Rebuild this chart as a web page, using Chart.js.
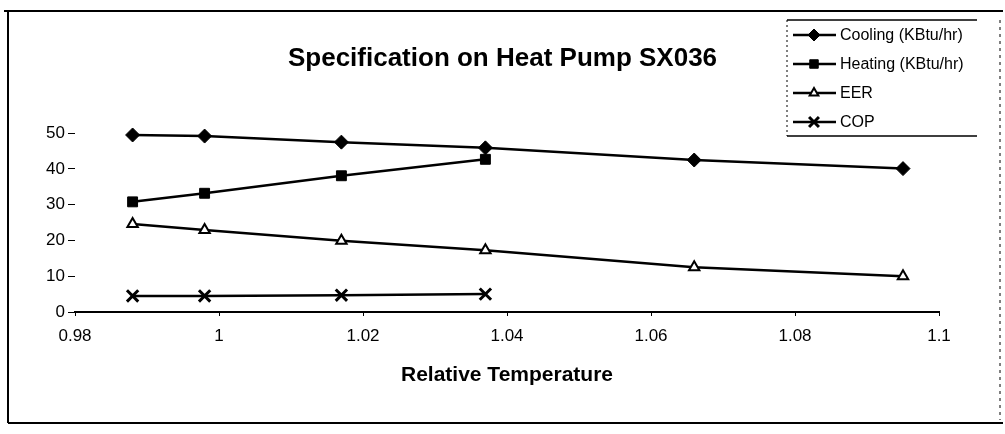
<!DOCTYPE html>
<html>
<head>
<meta charset="utf-8">
<script src="https://cdn.jsdelivr.net/npm/chart.js@4.4.0/dist/chart.umd.min.js"></script>
<style>
html, body { margin: 0; padding: 0; background: #fff; }
#wrap { position: relative; width: 1005px; height: 434px; }
</style>
</head>
<body>
<div id="wrap"><canvas id="chart"></canvas></div>
<script>
// relative temperature of each measured point
const temps = [0.988, 0.998, 1.017, 1.037, 1.066, 1.095];
const cooling = [49.5, 49.2, 47.5, 45.9, 42.5, 40.1];
const heating = [30.8, 33.2, 38.1, 42.7];
const eer = [24.6, 22.9, 19.9, 17.3, 12.5, 10];
const cop = [4.5, 4.5, 4.7, 5.0];
const seriesNames = ['Cooling (KBtu/hr)', 'Heating (KBtu/hr)', 'EER', 'COP'];
const xTicks = [0.98, 1, 1.02, 1.04, 1.06, 1.08, 1.1];
const yTicks = [0, 10, 20, 30, 40, 50];

const FONT = "'Liberation Sans', Arial, sans-serif";
Chart.defaults.font.family = FONT;
Chart.defaults.color = '#000';

function toPoints(values) {
	return values.map((v, i) => ({ x: temps[i], y: v }));
}

// scanned page frame round the chart
const paperFrame = {
	id: 'paperFrame',
	beforeDraw(chart) {
		const ctx = chart.ctx;
		ctx.save();
		ctx.fillStyle = '#fff';
		ctx.fillRect(0, 0, chart.width, chart.height);
		ctx.strokeStyle = '#000';
		ctx.lineWidth = 2;
		ctx.beginPath();
		ctx.moveTo(4, 11); ctx.lineTo(1003, 11);
		ctx.moveTo(8, 11); ctx.lineTo(8, 423);
		ctx.moveTo(8, 423); ctx.lineTo(1003, 423);
		ctx.stroke();
		ctx.setLineDash([3, 4]);
		ctx.lineWidth = 1;
		ctx.beginPath();
		ctx.moveTo(1000, 20); ctx.lineTo(1000, 420);
		ctx.stroke();
		ctx.restore();
	}
};

// legend box in the top right corner, line with the marker in the middle
const boxLegend = {
	id: 'boxLegend',
	afterDraw(chart) {
		const ctx = chart.ctx;
		ctx.save();
		ctx.strokeStyle = '#000';
		ctx.lineWidth = 1.5;
		ctx.beginPath();
		ctx.moveTo(787, 20); ctx.lineTo(977, 20);
		ctx.moveTo(787, 136); ctx.lineTo(977, 136);
		ctx.stroke();
		ctx.setLineDash([2, 3]);
		ctx.lineWidth = 1;
		ctx.beginPath();
		ctx.moveTo(787, 20); ctx.lineTo(787, 136);
		ctx.stroke();
		ctx.setLineDash([]);

		chart.data.datasets.forEach((ds, i) => {
			const y = 35 + i * 29;
			ctx.strokeStyle = '#000';
			ctx.lineWidth = 2.5;
			ctx.beginPath();
			ctx.moveTo(793, y);
			ctx.lineTo(836, y);
			ctx.stroke();
			ctx.fillStyle = ds.pointBackgroundColor;
			ctx.lineWidth = ds.pointBorderWidth;
			Chart.helpers.drawPoint(ctx, {
				pointStyle: ds.pointStyle,
				radius: ds.pointRadius - 1,
				rotation: 0,
				borderWidth: ds.pointBorderWidth
			}, 814, y);
			ctx.fillStyle = '#000';
			ctx.font = '16px ' + FONT;
			ctx.textAlign = 'left';
			ctx.textBaseline = 'middle';
			ctx.fillText(ds.label, 840, y + 1);
		});
		ctx.restore();
	}
};

const datasets = [
	{
		label: seriesNames[0],
		data: toPoints(cooling),
		pointStyle: 'rectRot',
		pointRadius: 7,
		pointBackgroundColor: '#000',
		pointBorderWidth: 1,
	},
	{
		label: seriesNames[1],
		data: toPoints(heating),
		pointStyle: 'rect',
		pointRadius: 7,
		pointBackgroundColor: '#000',
		pointBorderWidth: 1,
	},
	{
		label: seriesNames[2],
		data: toPoints(eer),
		pointStyle: 'triangle',
		pointRadius: 6,
		pointBackgroundColor: '#fff',
		pointBorderWidth: 2,
	},
	{
		label: seriesNames[3],
		data: toPoints(cop),
		pointStyle: 'crossRot',
		pointRadius: 8,
		pointBackgroundColor: '#000',
		pointBorderWidth: 3,
	},
].map(ds => Object.assign({
	borderColor: '#000',
	backgroundColor: '#000',
	pointBorderColor: '#000',
	borderWidth: 2.5,
	tension: 0,
	clip: false,
	yAxisID: 'y',
}, ds));

new Chart(document.getElementById('chart'), {
	type: 'line',
	data: { datasets: datasets },
	options: {
		responsive: true,
		maintainAspectRatio: false,
		animation: false,
		layout: { padding: 0 },
		plugins: {
			legend: { display: false },
			tooltip: { enabled: false },
			title: {
				display: true,
				text: 'Specification on Heat Pump SX036',
				color: '#000',
				font: { size: 26, weight: 'bold' },
				padding: { top: 43, bottom: 59 },
			},
		},
		scales: {
			x: {
				type: 'linear',
				min: 0.98,
				max: 1.1,
				afterBuildTicks: (scale) => { scale.ticks = xTicks.map(v => ({ value: v })); },
				afterFit: (scale) => { scale.height = 122; },
				ticks: {
					font: { size: 17 },
					padding: 10,
					maxRotation: 0,
					autoSkip: false,
					callback: (v) => String(v),
				},
				grid: { display: true, drawOnChartArea: false, drawTicks: true, tickLength: 4, color: '#000' },
				border: { display: true, color: '#000', width: 2 },
				title: {
					display: true,
					text: 'Relative Temperature',
					font: { size: 21, weight: 'bold' },
					padding: { top: 0, bottom: 46 },
				},
			},
			y: {
				min: 0,
				max: 50,
				afterBuildTicks: (scale) => { scale.ticks = yTicks.map(v => ({ value: v })); },
				afterFit: (scale) => { scale.width = 75; },
				ticks: {
					font: { size: 17 },
					padding: 3,
					callback: (v) => String(v),
				},
				grid: { display: true, drawOnChartArea: false, drawTicks: true, tickLength: 7, color: '#000', lineWidth: 1 },
				border: { display: false },
			},
			// empty right-hand strip, only keeps the plot clear of the right edge
			yRight: {
				position: 'right',
				display: true,
				afterFit: (scale) => { scale.width = 66; },
				ticks: { display: false },
				grid: { display: false },
				border: { display: false },
			},
		},
	},
	plugins: [paperFrame, boxLegend],
});
</script>
</body>
</html>
